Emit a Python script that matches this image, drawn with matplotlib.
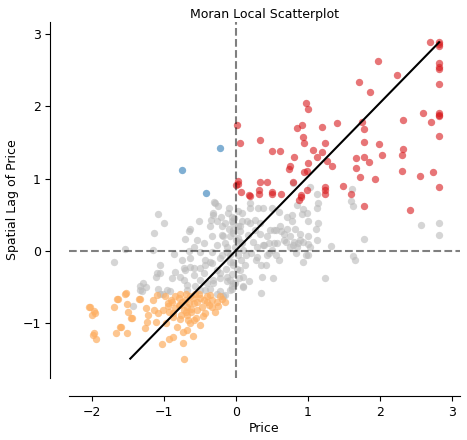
import numpy as np
import matplotlib.pyplot as plt

# standardized price (x) and its spatial lag (y)
# non-significant points
ns_pts = [
    (-0.29, 0.67), (-0.25, 0.62), (-0.10, 0.60), (-1.08, 0.51), (-1.00, 0.38), (-1.14, 0.25),
    (-0.51, 0.41), (-0.32, 0.52), (-0.21, 0.47), (-0.11, 0.52), (-0.35, 0.43), (-0.27, 0.41),
    (-0.15, 0.38), (-0.06, 0.41), (-0.64, 0.31), (-0.66, 0.27), (-0.36, 0.34), (-0.20, 0.34),
    (-0.04, 0.29), (0.08, 0.52), (0.08, 0.41), (-0.34, 0.21), (-0.20, 0.22), (-0.08, 0.20),
    (-0.71, 0.16), (-0.55, 0.15), (-0.45, 0.11), (-0.59, 0.06), (-0.27, 0.08), (-0.15, 0.11),
    (0.06, 0.13), (-0.86, -0.04), (-0.66, 0.00), (-0.50, -0.01), (-0.34, -0.01), (-0.13, -0.01),
    (-1.06, -0.19), (-0.75, -0.12), (-0.64, -0.10), (-0.43, -0.12), (-0.22, -0.10), (-0.08, -0.15),
    (-0.73, -0.24), (-0.50, -0.24), (-1.55, 0.03), (-1.70, -0.15), (-1.15, 0.01), (-1.10, -0.30),
    (-1.29, -0.45), (-1.33, -0.54), (-1.25, -0.50), (-1.43, -0.76), (-0.85, -0.29), (-0.89, -0.38),
    (-0.71, -0.26), (-0.73, -0.40), (-0.59, -0.24), (-0.50, -0.40), (-0.68, -0.54), (-0.96, -0.54),
    (-1.06, -0.59), (-0.43, -0.54), (-0.32, -0.45), (-0.27, -0.59), (-0.18, -0.63), (-0.08, -0.54),
    (-0.04, -0.45), (-0.13, -0.36), (-0.22, -0.31), (-0.36, -0.15), (-0.45, -0.31), (-0.31, 0.68),
    (-0.32, 0.50), (-1.06, -0.31), (-1.11, -0.36), (-0.78, -0.36), (-0.64, -0.22), (-0.59, -0.33),
    (-0.43, -0.19), (-0.34, -0.17), (-0.27, -0.26), (-0.22, -0.38), (-0.32, -0.40), (-0.41, -0.45),
    (-0.13, -0.42), (-0.06, -0.49), (-1.33, -0.49), (-1.31, -0.56), (-1.08, -0.52), (-1.01, -0.59),
    (-0.92, -0.56), (-0.68, -0.47), (-0.57, -0.49), (-0.50, -0.54), (-0.36, -0.52), (-0.22, -0.56),
    (-0.15, -0.61), (0.07, -0.12), (0.12, -0.19), (0.05, -0.26), (0.10, -0.36), (0.18, -0.42),
    (0.09, -0.49), (0.34, -0.58), (0.36, -0.36), (0.51, -0.38), (1.24, -0.37), (0.35, -0.19),
    (0.42, -0.19), (0.28, -0.12), (0.60, -0.12), (0.93, -0.15), (0.97, -0.06), (1.32, 0.07),
    (1.00, 0.10), (0.86, 0.11), (0.69, 0.13), (0.53, 0.11), (0.39, 0.08), (0.23, 0.12),
    (0.21, -0.03), (0.46, -0.03), (0.56, -0.06), (0.83, -0.03), (0.79, 0.08), (0.09, 0.01),
    (0.14, -0.06), (1.77, 0.16), (1.63, -0.07), (1.65, -0.13), (2.57, 0.36), (2.82, 0.39),
    (2.82, 0.22), (1.14, 0.38), (1.11, 0.30), (1.00, 0.41), (1.13, 0.60), (0.93, 0.58),
    (0.91, 0.51), (0.84, 0.64), (0.77, 0.50), (0.70, 0.31), (0.63, 0.27), (0.61, 0.34),
    (0.52, 0.29), (0.43, 0.20), (0.38, 0.08), (0.50, 0.59), (0.38, 0.59), (0.31, 0.59),
    (0.19, 0.66), (0.19, 0.38), (0.33, 0.38), (0.26, 0.29), (0.17, 0.22), (0.08, 0.11),
    (0.84, 0.06), (0.93, 0.13), (1.00, -0.06), (0.10, -0.50), (-0.06, -0.53), (0.75, 0.20),
    (0.89, 0.24), (0.80, 0.13), (0.66, 0.15), (0.57, 0.11), (0.50, 0.01), (0.43, -0.06),
    (0.29, -0.08), (1.03, 0.89), (1.13, 0.79), (1.14, 0.66), (0.19, 0.59), (0.59, 0.54),
    (0.70, 0.47), (0.98, 0.52), (0.47, 0.29), (0.56, 0.29), (0.66, 0.24), (0.77, 0.41),
    (0.82, 0.31), (1.00, 0.20), (-0.06, 0.47), (-0.04, 0.38), (0.06, 0.34), (0.15, 0.41),
    (0.26, 0.43), (0.33, 0.24), (0.03, 0.18), (0.29, 0.06), (0.45, 0.11), (0.75, 0.06),
    (1.03, 0.06), (0.89, 0.15), (1.12, 0.15), (1.61, 0.85), (1.59, 0.69), (1.63, 0.62),
    (0.79, 0.94), (-0.03, 0.45), (0.02, 0.35), (-0.05, 0.25), (0.00, 0.15), (-0.02, 0.05),
    (0.03, -0.05), (-0.04, -0.15), (0.01, -0.25), (-0.06, -0.32), (0.04, -0.38), (-0.10, 0.30),
    (-0.12, 0.05), (-0.08, -0.05), (-0.14, -0.25), (0.05, 0.28), (-0.01, -0.45), (-0.09, -0.40),
    (0.02, 0.55), (-0.05, -0.20), (-0.18, 0.20), (-0.20, -0.05),
]

# high-high (significant)
hh_pts = [
    (0.01, 1.74), (0.97, 2.05), (1.00, 1.96), (0.91, 1.74), (0.84, 1.70), (1.19, 1.71),
    (1.40, 1.77), (0.93, 1.58), (0.06, 1.50), (0.33, 1.53), (0.94, 1.50), (1.23, 1.50),
    (2.69, 2.89), (2.82, 2.89), (2.82, 2.86), (2.82, 2.84), (1.97, 2.63), (2.82, 2.60),
    (2.82, 2.54), (2.82, 2.52), (2.24, 2.43), (1.71, 2.34), (2.82, 2.31), (1.86, 2.20),
    (2.60, 1.91), (2.82, 1.91), (2.82, 1.88), (2.82, 1.86), (2.71, 1.79), (2.32, 1.81),
    (1.75, 1.78), (1.77, 1.68), (2.82, 1.59), (1.77, 1.51), (1.98, 1.48), (0.50, 1.38),
    (0.61, 1.38), (1.07, 1.39), (1.13, 1.30), (1.19, 1.37), (0.80, 1.30), (1.26, 1.24),
    (1.00, 1.22), (0.75, 1.18), (0.73, 1.13), (1.33, 1.17), (0.94, 1.09), (0.99, 1.10),
    (0.03, 0.97), (0.00, 0.91), (0.33, 0.96), (0.43, 0.96), (0.79, 0.95), (0.07, 0.81),
    (0.32, 0.84), (0.32, 0.79), (0.50, 0.81), (0.50, 0.79), (0.62, 0.79), (0.19, 0.76),
    (0.90, 0.77), (0.99, 0.84), (1.24, 0.89), (1.24, 0.84), (1.23, 0.79), (1.48, 0.90),
    (0.87, 0.71), (0.90, 0.75), (2.32, 1.41), (2.30, 1.33), (2.03, 1.33), (1.78, 1.30),
    (1.67, 1.28), (1.85, 1.23), (1.67, 1.15), (2.31, 1.11), (2.74, 1.09), (2.56, 1.04),
    (1.72, 1.02), (1.93, 0.99), (2.82, 0.88), (1.59, 0.79), (1.78, 0.62), (2.42, 0.56),
    (0.02, 0.93), (0.18, 0.77),
]

# low-high (significant)
lh_pts = [(-0.23, 1.43), (-0.75, 1.12), (-0.42, 0.80)]

# low-low (significant)
ll_pts = [
    (-2.03, -0.77), (-1.97, -0.83), (-2.00, -0.89), (-1.96, -0.86), (-1.99, -1.16), (-1.94, -1.22),
    (-1.97, -1.14), (-1.70, -0.78), (-1.64, -0.67), (-1.67, -1.13), (-1.60, -1.05), (-1.52, -1.13),
    (-1.54, -0.59), (-1.52, -0.74), (-1.50, -0.84), (-1.45, -0.93), (-1.34, -0.66), (-1.25, -0.79),
    (-1.22, -0.89), (-1.24, -0.98), (-1.26, -1.07), (-1.16, -0.68), (-1.10, -0.61), (-1.14, -0.82),
    (-1.11, -0.98), (-1.08, -0.86), (-1.03, -1.29), (-0.95, -0.72), (-0.97, -1.00), (-0.93, -1.22),
    (-0.88, -1.19), (-0.94, -0.76), (-0.89, -0.70), (-0.87, -0.86), (-0.82, -1.05), (-0.78, -0.94),
    (-0.74, -1.27), (-0.72, -1.50), (-0.85, -0.63), (-0.78, -0.75), (-0.73, -0.82), (-0.68, -0.89),
    (-0.68, -1.09), (-0.60, -1.18), (-0.64, -1.00), (-0.71, -0.68), (-0.64, -0.62), (-0.59, -0.72),
    (-0.55, -0.82), (-0.56, -0.93), (-0.50, -1.02), (-0.57, -0.59), (-0.50, -0.65), (-0.48, -0.77),
    (-0.43, -0.86), (-0.41, -0.70), (-0.36, -0.61), (-0.34, -0.77), (-0.27, -0.70), (-0.23, -0.63),
    (-0.15, -0.70), (-0.29, -0.84), (-1.01, -0.82), (-0.99, -0.62), (-0.85, -0.79), (-0.78, -0.59),
    (-0.68, -0.77), (-0.62, -0.84), (-1.53, -0.58), (-1.65, -0.66), (-2.04, -0.77), (-1.46, -0.93),
    (-1.61, -1.05), (-1.35, -0.66), (-0.80, -0.65), (-0.75, -0.70), (-0.70, -0.60), (-0.65, -0.72),
    (-0.60, -0.65), (-0.55, -0.70), (-0.52, -0.60), (-0.45, -0.68), (-0.40, -0.62), (-0.38, -0.75),
    (-0.62, -0.80), (-0.70, -0.85), (-0.77, -0.88), (-0.90, -0.68), (-0.93, -0.85), (-0.58, -0.95),
    (-0.46, -0.90), (-0.33, -0.68), (-0.25, -0.76), (-0.20, -0.66), (-0.80, -0.75), (-0.67, -0.95),
    (-0.74, -1.12), (-0.88, -0.92),
]

# fitted line (slope ~ Moran's I), drawn over the range of the lag
fit_slope = 1.02
fit_intercept = 0.01
fit_range = [-1.47, 2.82]

groups = [
    (ns_pts, '#bababa', 0.6),
    (hh_pts, '#d7191c', 0.6),
    (ll_pts, '#fdae61', 0.7),
    (lh_pts, '#2c7bb6', 0.6),
]

plt.rcParams['font.size'] = 9

fig = plt.figure(figsize=(4.67, 4.40), dpi=100)
ax = fig.add_axes([0.148, 0.141, 0.837, 0.809])

for pts, col, a in groups:
    arr = np.array(pts)
    ax.scatter(arr[:, 0], arr[:, 1], s=28, color=col, alpha=a, linewidths=0)

ax.axvline(0, alpha=0.5, color='k', linestyle='--')
ax.axhline(0, alpha=0.5, color='k', linestyle='--')

fx = np.array(fit_range)
ax.plot(fx, fit_intercept + fit_slope * fx, color='k', lw=1.5)

ax.set_xlim(-2.32, 3.11)
ax.set_ylim(-1.757, 3.167)
ax.set_xticks([-2, -1, 0, 1, 2, 3])
ax.set_yticks([-1, 0, 1, 2, 3])

ax.spines['top'].set_visible(False)
ax.spines['right'].set_visible(False)
ax.spines['left'].set_position(('outward', 13.5))
ax.spines['bottom'].set_position(('outward', 13))

ax.set_title('Moran Local Scatterplot', fontsize=9, pad=3)
ax.set_xlabel('Price', labelpad=2)
ax.set_ylabel('Spatial Lag of Price', labelpad=2)

fig.savefig('out.png', dpi=100)
